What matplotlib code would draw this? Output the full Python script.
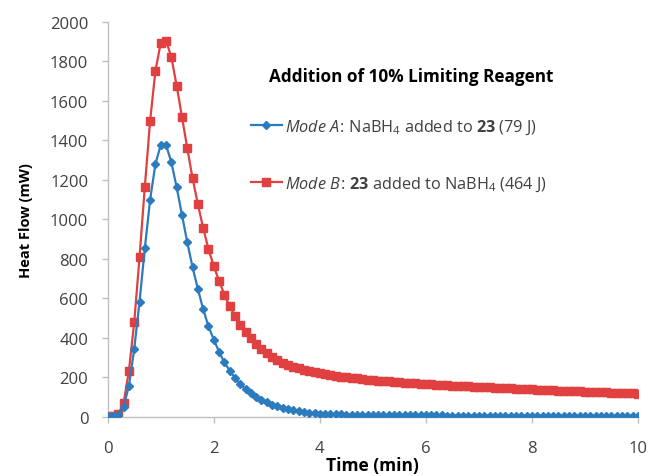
import matplotlib
matplotlib.use('Agg')
import matplotlib.pyplot as plt

plt.rcParams['font.family'] = ['Open Sans', 'DejaVu Sans']
plt.rcParams['mathtext.fontset'] = 'custom'
plt.rcParams['mathtext.rm'] = 'Open Sans'
plt.rcParams['mathtext.it'] = 'Open Sans:italic'
plt.rcParams['mathtext.bf'] = 'Open Sans:bold'

# time in minutes, 0.1 min steps
time = [0.0, 0.1, 0.2, 0.3, 0.4, 0.5, 0.6, 0.7, 0.8, 0.9,
        1.0, 1.1, 1.2, 1.3, 1.4, 1.5, 1.6, 1.7, 1.8, 1.9,
        2.0, 2.1, 2.2, 2.3, 2.4, 2.5, 2.6, 2.7, 2.8, 2.9,
        3.0, 3.1, 3.2, 3.3, 3.4, 3.5, 3.6, 3.7, 3.8, 3.9,
        4.0, 4.1, 4.2, 4.3, 4.4, 4.5, 4.6, 4.7, 4.8, 4.9,
        5.0, 5.1, 5.2, 5.3, 5.4, 5.5, 5.6, 5.7, 5.8, 5.9,
        6.0, 6.1, 6.2, 6.3, 6.4, 6.5, 6.6, 6.7, 6.8, 6.9,
        7.0, 7.1, 7.2, 7.3, 7.4, 7.5, 7.6, 7.7, 7.8, 7.9,
        8.0, 8.1, 8.2, 8.3, 8.4, 8.5, 8.6, 8.7, 8.8, 8.9,
        9.0, 9.1, 9.2, 9.3, 9.4, 9.5, 9.6, 9.7, 9.8, 9.9,
        10.0]

# Mode A: NaBH4 added to 23
modeA = [2, 3, 8, 50, 157, 343, 582, 853, 1099, 1280,
         1376, 1376, 1288, 1162, 1023, 883, 757, 647, 544, 458,
         390, 329, 275, 233, 196, 165, 140, 118, 100, 85,
         72, 61, 52, 44, 38, 33, 28, 24, 21, 18,
         16, 15, 14, 13, 12, 11, 11, 10, 10, 9,
         9, 9, 8, 8, 8, 8, 8, 7, 7, 7,
         7, 7, 7, 7, 6, 6, 6, 6, 6, 6,
         6, 6, 6, 6, 6, 5, 5, 5, 5, 5,
         5, 5, 5, 5, 5, 5, 5, 5, 5, 5,
         5, 5, 5, 5, 4, 4, 4, 4, 4, 4,
         4]

# Mode B: 23 added to NaBH4
modeB = [5, 5, 14, 69, 233, 478, 807, 1165, 1499, 1752,
         1892, 1904, 1821, 1676, 1519, 1360, 1207, 1077, 955, 849,
         762, 688, 618, 559, 511, 466, 430, 398, 370, 345,
         323, 304, 288, 274, 263, 253, 245, 238, 231, 225,
         220, 215, 211, 207, 203, 200, 197, 194, 191, 188,
         186, 183, 181, 179, 177, 175, 173, 171, 169, 167,
         165, 164, 162, 161, 159, 158, 156, 155, 153, 152,
         150, 149, 148, 146, 145, 144, 143, 141, 140, 139,
         138, 137, 136, 135, 134, 132, 131, 130, 129, 128,
         127, 126, 125, 124, 123, 122, 121, 120, 119, 118,
         116]

labelA = r'$\it{Mode\ A\!:}\,$NaBH$_4$ added to $\bf{23}$ (79 J)'
labelB = r'$\it{Mode\ B\!:}\,$$\bf{23}$ added to NaBH$_4$ (464 J)'

blue = '#2b7bbf'
red = '#e0403f'
grey = '#bfbfbf'
txt = '#404040'

fig = plt.figure(figsize=(6.54, 4.77), dpi=100)
ax = fig.add_axes([0.1647, 0.1243, 0.8108, 0.8281])

ax.plot(time, modeA, color=blue, lw=1.6, marker='D', ms=3.8,
        mec=blue, mfc=blue, label=labelA, zorder=3)
ax.plot(time, modeB, color=red, lw=1.6, marker='s', ms=6,
        mec=red, mfc=red, label=labelB, zorder=2)

ax.set_xlim(0, 10)
ax.set_ylim(0, 2000)
ax.set_xticks([0, 2, 4, 6, 8, 10])
ax.set_yticks(range(0, 2001, 200))

for s in ['top', 'right']:
    ax.spines[s].set_visible(False)
for s in ['left', 'bottom']:
    ax.spines[s].set_color(grey)
    ax.spines[s].set_linewidth(1)
ax.tick_params(axis='both', colors=grey, labelcolor=txt, labelsize=12,
               length=4, width=1)
ax.tick_params(axis='y', pad=10)
ax.tick_params(axis='x', pad=13)

ax.set_xlabel('Time (min)', fontsize=12.5, fontweight='bold', labelpad=0)
ax.set_ylabel('Heat Flow (mW)', fontsize=10.5, fontweight='bold', labelpad=12)

ax.text(0.572, 0.862, 'Addition of 10% Limiting Reagent', transform=ax.transAxes,
        ha='center', va='center', fontsize=12.3, fontweight='bold')

leg = ax.legend(loc='upper left', bbox_to_anchor=(0.255, 0.778), frameon=False,
                fontsize=11.7, handlelength=1.9, handletextpad=0.2,
                labelspacing=2.4, borderpad=0)
for t in leg.get_texts():
    t.set_color(txt)

fig.savefig('out.png', dpi=100)
